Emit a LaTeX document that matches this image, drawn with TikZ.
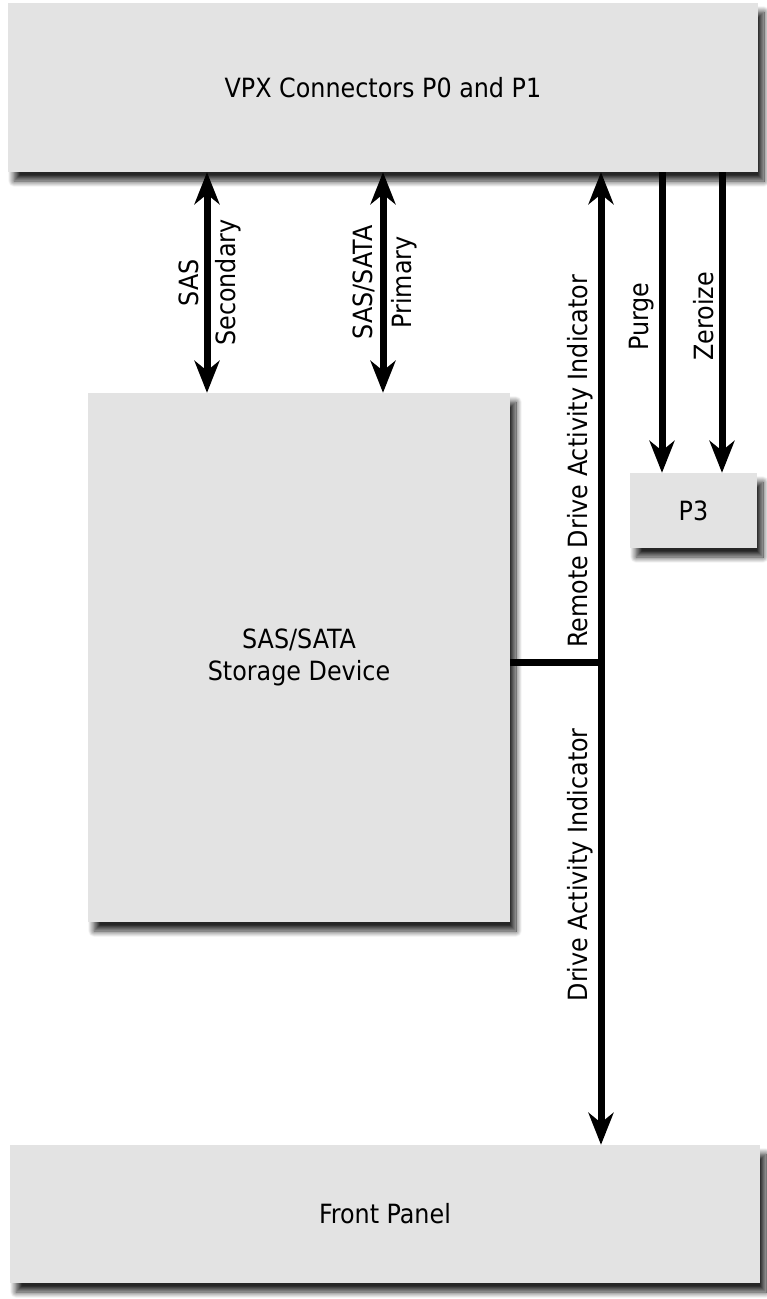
\documentclass[tikz,border=0pt]{standalone}
\usepackage{fontspec}
\setmainfont{DejaVu Sans Condensed}
\usetikzlibrary{arrows.meta,shadows.blur,positioning}
\definecolor{boxgray}{HTML}{E3E3E3}
\begin{document}
\begin{tikzpicture}[x=1pt,y=-1pt,
  box/.style={fill=boxgray,draw=none,inner sep=0pt,
    blur shadow={shadow xshift=6pt,shadow yshift=-9pt,shadow blur radius=6pt,
      shadow blur steps=16,shadow opacity=85}},
  boxtext/.style={font=\fontsize{26.5}{32}\selectfont,align=center},
  sig/.style={line width=7pt,-{Stealth[length=32pt,width=25pt,inset=10pt]}},
  dbl/.style={line width=7pt,{Stealth[length=32pt,width=25pt,inset=10pt]}-{Stealth[length=32pt,width=25pt,inset=10pt]}},
  wire/.style={line width=7pt},
  lbl/.style={font=\fontsize{26.5}{30}\selectfont,rotate=90,inner sep=4.5pt}]
  \useasboundingbox (0,0) rectangle (767,1299);

  \node[box,boxtext,minimum width=750pt,minimum height=169pt] (vpx) at (383,87.5) {VPX Connectors P0 and P1};
  \node[box,boxtext,minimum width=422pt,minimum height=529pt] (store) at (299,657.5) {SAS/SATA\\Storage Device};
  \node[box,boxtext,minimum width=127pt,minimum height=75pt] (pthree) at (693.5,510.5) {P3};
  \node[box,boxtext,minimum width=750pt,minimum height=138pt] (front) at (385,1214) {Front Panel};

  \coordinate (sec) at (207,0);
  \coordinate (pri) at (383,0);
  \coordinate (jn) at (601,662);
  \coordinate (pg) at (662,0);
  \coordinate (zr) at (722,0);

  \draw[dbl] (vpx.south -| sec) -- (store.north -| sec)
    node[lbl,midway,above]{SAS} node[lbl,midway,below]{Secondary};
  \draw[dbl] (vpx.south -| pri) -- (store.north -| pri)
    node[lbl,midway,above]{SAS/SATA} node[lbl,midway,below]{Primary};

  \draw[wire] (store.east |- jn) -- (jn);
  \draw[sig] (jn) -- (vpx.south -| jn) node[lbl,pos=0.41,above]{Remote Drive Activity Indicator};
  \draw[sig] (jn) -- (front.north -| jn) node[lbl,pos=0.42,above]{Drive Activity Indicator};

  \draw[sig] (vpx.south -| pg) -- (pthree.north -| pg) node[lbl,pos=0.48,above]{Purge};
  \draw[sig] (vpx.south -| zr) -- (pthree.north -| zr) node[lbl,pos=0.48,above]{Zeroize};

\end{tikzpicture}
\end{document}
